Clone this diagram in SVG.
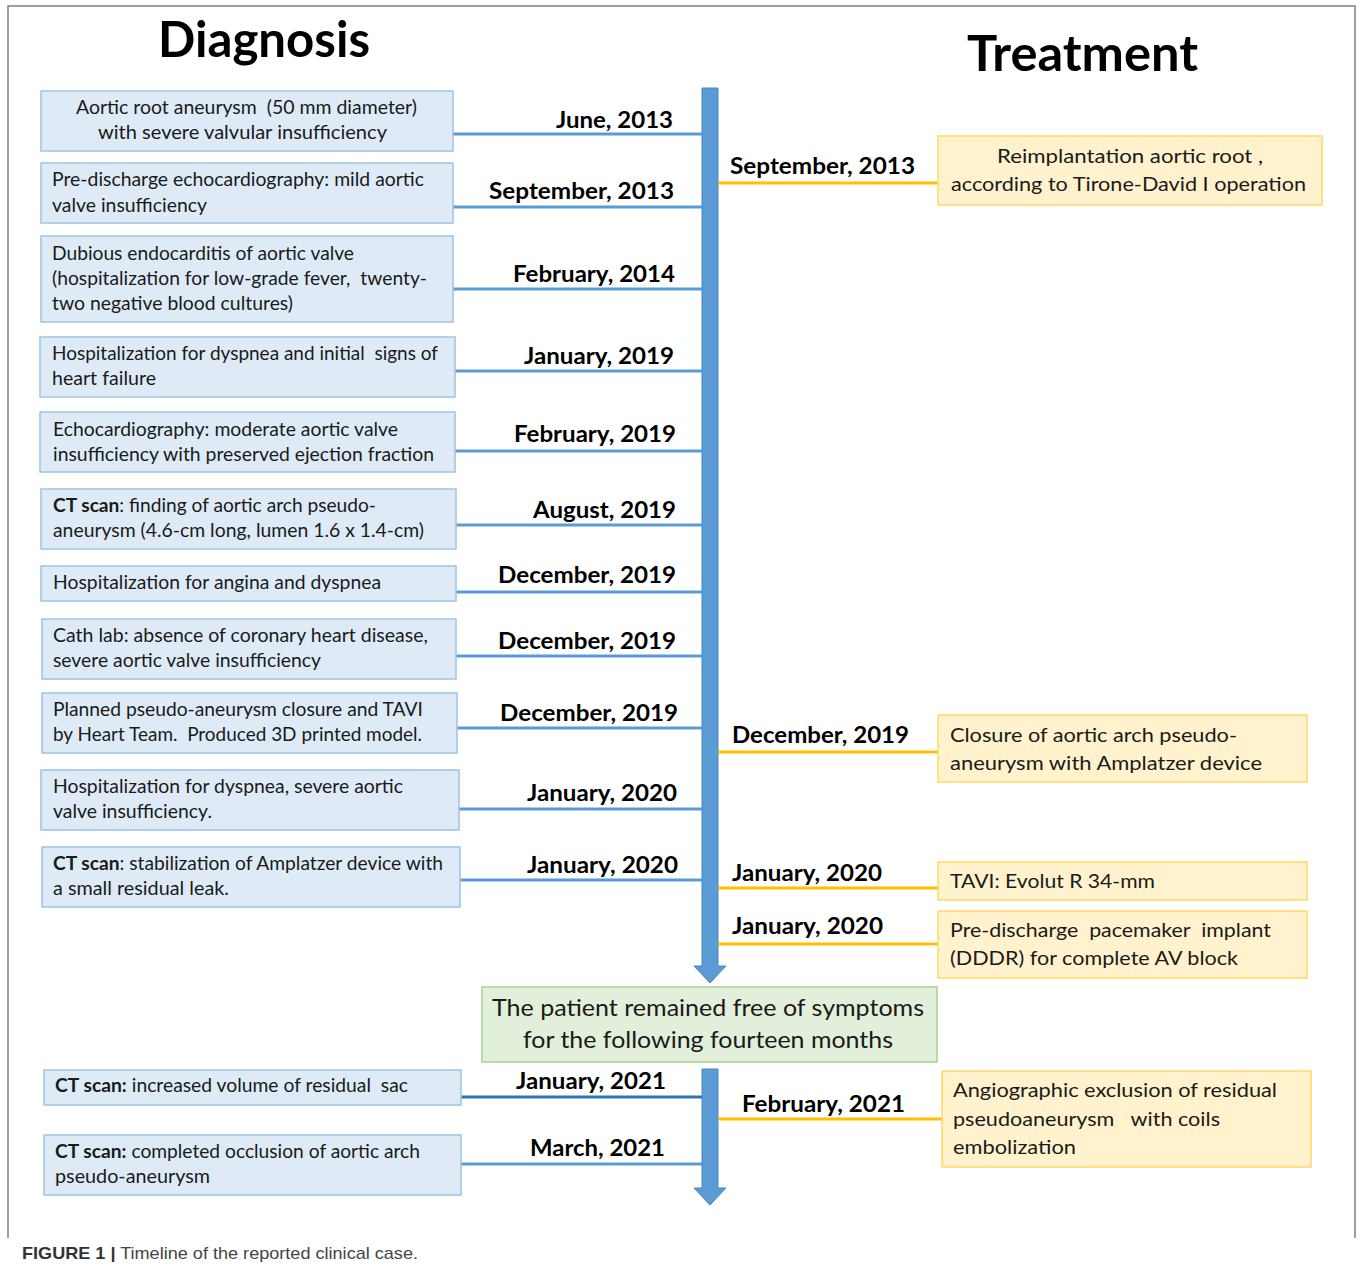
<svg xmlns="http://www.w3.org/2000/svg" width="1360" height="1269" viewBox="0 0 1360 1269">
<style>
text{white-space:pre}
.frame{fill:none;stroke:#7f7f7f;stroke-width:1.5}
.dx{fill:#deebf7;stroke:#9dc3e6;stroke-width:1.5}
.tx{fill:#fff2cc;stroke:#ffd966;stroke-width:1.5}
.gx{fill:#e2efda;stroke:#a9d18e;stroke-width:1.5}
.t{font-family:Lato,"Liberation Sans",sans-serif;font-size:19px;fill:#1a1a1a}
.tr{font-family:Lato,"Liberation Sans",sans-serif;font-size:20px;fill:#1a1a1a}
.tg{font-family:Lato,"Liberation Sans",sans-serif;font-size:24px;fill:#1a1a1a}
.d{font-family:Lato,"Liberation Sans",sans-serif;font-size:23px;font-weight:bold;fill:#000}
.h{font-family:Lato,"Liberation Sans",sans-serif;font-size:50px;font-weight:bold;fill:#000}
.b{font-weight:bold}
.cl{stroke:#5b9bd5;stroke-width:3;fill:none}
.cl2{stroke:#2e75b6;stroke-width:3;fill:none}
.co{stroke:#ffc000;stroke-width:3;fill:none}
.bar{fill:#5b9bd5;stroke:#4a86c0;stroke-width:1}
.cap{font-family:"Liberation Sans",Arial,sans-serif;font-size:17px;fill:#444}
</style>
<rect width="1360" height="1269" fill="#fff"/>
<path class="frame" d="M8,1238 V6 H1355 V1238"/>
<g id="titles">
<text class="h" x="158" y="57" textLength="212" lengthAdjust="spacingAndGlyphs">Diagnosis</text>
<text class="h" x="967" y="71" textLength="231" lengthAdjust="spacingAndGlyphs">Treatment</text>
</g>
<g id="connectors">
<path class="bar" d="M702,88 H718 V966 H726 L710,983 L694,966 H702 Z"/>
<path class="bar" d="M702,1069 H718 V1188 H726 L710,1205 L694,1188 H702 Z"/>
<line class="cl" x1="453" y1="134" x2="702" y2="134"/>
<line class="cl" x1="453" y1="207" x2="702" y2="207"/>
<line class="cl" x1="453" y1="289" x2="702" y2="289"/>
<line class="cl" x1="455" y1="371" x2="702" y2="371"/>
<line class="cl" x1="455" y1="451" x2="702" y2="451"/>
<line class="cl" x1="456" y1="525" x2="702" y2="525"/>
<line class="cl" x1="456" y1="592" x2="702" y2="592"/>
<line class="cl" x1="456" y1="656" x2="702" y2="656"/>
<line class="cl" x1="457" y1="728" x2="702" y2="728"/>
<line class="cl" x1="459" y1="809" x2="702" y2="809"/>
<line class="cl" x1="460" y1="880" x2="702" y2="880"/>
<line class="cl2" x1="461" y1="1097" x2="702" y2="1097"/>
<line class="cl" x1="461" y1="1164" x2="702" y2="1164"/>
<line class="co" x1="718" y1="183" x2="938" y2="183"/>
<line class="co" x1="718" y1="752" x2="938" y2="752"/>
<line class="co" x1="718" y1="888" x2="938" y2="888"/>
<line class="co" x1="718" y1="944" x2="938" y2="944"/>
<line class="co" x1="718" y1="1119" x2="942" y2="1119"/>
</g>
<g id="dates">
<text class="d" x="556" y="128" textLength="117" lengthAdjust="spacingAndGlyphs">June, 2013</text>
<text class="d" x="489" y="199" textLength="185" lengthAdjust="spacingAndGlyphs">September, 2013</text>
<text class="d" x="513" y="282" textLength="162" lengthAdjust="spacingAndGlyphs">February, 2014</text>
<text class="d" x="524" y="364" textLength="150" lengthAdjust="spacingAndGlyphs">January, 2019</text>
<text class="d" x="514" y="442" textLength="162" lengthAdjust="spacingAndGlyphs">February, 2019</text>
<text class="d" x="533" y="518" textLength="143" lengthAdjust="spacingAndGlyphs">August, 2019</text>
<text class="d" x="498" y="583" textLength="178" lengthAdjust="spacingAndGlyphs">December, 2019</text>
<text class="d" x="498" y="649" textLength="178" lengthAdjust="spacingAndGlyphs">December, 2019</text>
<text class="d" x="500" y="721" textLength="178" lengthAdjust="spacingAndGlyphs">December, 2019</text>
<text class="d" x="527" y="801" textLength="150" lengthAdjust="spacingAndGlyphs">January, 2020</text>
<text class="d" x="527" y="873" textLength="151" lengthAdjust="spacingAndGlyphs">January, 2020</text>
<text class="d" x="516" y="1089" textLength="150" lengthAdjust="spacingAndGlyphs">January, 2021</text>
<text class="d" x="530" y="1156" textLength="135" lengthAdjust="spacingAndGlyphs">March, 2021</text>
<text class="d" x="730" y="174" textLength="185" lengthAdjust="spacingAndGlyphs">September, 2013</text>
<text class="d" x="732" y="743" textLength="177" lengthAdjust="spacingAndGlyphs">December, 2019</text>
<text class="d" x="732" y="881" textLength="150" lengthAdjust="spacingAndGlyphs">January, 2020</text>
<text class="d" x="732" y="934" textLength="151" lengthAdjust="spacingAndGlyphs">January, 2020</text>
<text class="d" x="742" y="1112" textLength="163" lengthAdjust="spacingAndGlyphs">February, 2021</text>
</g>
<g id="d1"><rect class="dx" x="41" y="91" width="412" height="60"/>
<text class="t" x="76" y="114" textLength="341" lengthAdjust="spacingAndGlyphs">Aortic root aneurysm  (50 mm diameter)</text>
<text class="t" x="98" y="139" textLength="289" lengthAdjust="spacingAndGlyphs">with severe valvular insufficiency</text></g>
<g id="d2"><rect class="dx" x="41" y="163" width="412" height="60"/>
<text class="t" x="52" y="186" textLength="372" lengthAdjust="spacingAndGlyphs">Pre-discharge echocardiography: mild aortic</text>
<text class="t" x="52" y="212" textLength="155" lengthAdjust="spacingAndGlyphs">valve insufficiency</text></g>
<g id="d3"><rect class="dx" x="41" y="236" width="412" height="86"/>
<text class="t" x="52" y="260" textLength="302" lengthAdjust="spacingAndGlyphs">Dubious endocarditis of aortic valve</text>
<text class="t" x="52" y="285" textLength="375" lengthAdjust="spacingAndGlyphs">(hospitalization for low-grade fever,  twenty-</text>
<text class="t" x="52" y="310" textLength="241" lengthAdjust="spacingAndGlyphs">two negative blood cultures)</text></g>
<g id="d4"><rect class="dx" x="40" y="337" width="415" height="60"/>
<text class="t" x="52" y="360" textLength="386" lengthAdjust="spacingAndGlyphs">Hospitalization for dyspnea and initial  signs of</text>
<text class="t" x="52" y="385" textLength="104" lengthAdjust="spacingAndGlyphs">heart failure</text></g>
<g id="d5"><rect class="dx" x="40" y="412" width="415" height="60"/>
<text class="t" x="53" y="436" textLength="345" lengthAdjust="spacingAndGlyphs">Echocardiography: moderate aortic valve</text>
<text class="t" x="53" y="461" textLength="381" lengthAdjust="spacingAndGlyphs">insufficiency with preserved ejection fraction</text></g>
<g id="d6"><rect class="dx" x="41" y="489" width="415" height="60"/>
<text class="t" x="53" y="512" textLength="323" lengthAdjust="spacingAndGlyphs"><tspan class="b">CT scan</tspan>: finding of aortic arch pseudo-</text>
<text class="t" x="53" y="537" textLength="371" lengthAdjust="spacingAndGlyphs">aneurysm (4.6-cm long, lumen 1.6 x 1.4-cm)</text></g>
<g id="d7"><rect class="dx" x="41" y="566" width="415" height="35"/>
<text class="t" x="53" y="589" textLength="328" lengthAdjust="spacingAndGlyphs">Hospitalization for angina and dyspnea</text></g>
<g id="d8"><rect class="dx" x="42" y="619" width="414" height="60"/>
<text class="t" x="53" y="642" textLength="375" lengthAdjust="spacingAndGlyphs">Cath lab: absence of coronary heart disease,</text>
<text class="t" x="53" y="667" textLength="268" lengthAdjust="spacingAndGlyphs">severe aortic valve insufficiency</text></g>
<g id="d9"><rect class="dx" x="42" y="693" width="415" height="60"/>
<text class="t" x="53" y="716" textLength="370" lengthAdjust="spacingAndGlyphs">Planned pseudo-aneurysm closure and TAVI</text>
<text class="t" x="53" y="741" textLength="369" lengthAdjust="spacingAndGlyphs">by Heart Team.  Produced 3D printed model.</text></g>
<g id="d10"><rect class="dx" x="41" y="770" width="418" height="60"/>
<text class="t" x="53" y="793" textLength="350" lengthAdjust="spacingAndGlyphs">Hospitalization for dyspnea, severe aortic</text>
<text class="t" x="53" y="818" textLength="159" lengthAdjust="spacingAndGlyphs">valve insufficiency.</text></g>
<g id="d11"><rect class="dx" x="42" y="847" width="418" height="60"/>
<text class="t" x="53" y="870" textLength="390" lengthAdjust="spacingAndGlyphs"><tspan class="b">CT scan</tspan>: stabilization of Amplatzer device with</text>
<text class="t" x="53" y="895" textLength="176" lengthAdjust="spacingAndGlyphs">a small residual leak.</text></g>
<g id="d12"><rect class="dx" x="44" y="1070" width="417" height="35"/>
<text class="t" x="55" y="1092" textLength="353" lengthAdjust="spacingAndGlyphs"><tspan class="b">CT scan:</tspan> increased volume of residual  sac</text></g>
<g id="d13"><rect class="dx" x="44" y="1135" width="417" height="60"/>
<text class="t" x="55" y="1158" textLength="365" lengthAdjust="spacingAndGlyphs"><tspan class="b">CT scan:</tspan> completed occlusion of aortic arch</text>
<text class="t" x="55" y="1183" textLength="155" lengthAdjust="spacingAndGlyphs">pseudo-aneurysm</text></g>
<g id="tA"><rect class="tx" x="938" y="136" width="384" height="69"/>
<text class="tr" x="997" y="163" textLength="266" lengthAdjust="spacingAndGlyphs">Reimplantation aortic root ,</text>
<text class="tr" x="951" y="191" textLength="355" lengthAdjust="spacingAndGlyphs">according to Tirone-David I operation</text></g>
<g id="tB"><rect class="tx" x="938" y="715" width="369" height="67"/>
<text class="tr" x="950" y="742" textLength="287" lengthAdjust="spacingAndGlyphs">Closure of aortic arch pseudo-</text>
<text class="tr" x="950" y="770" textLength="312" lengthAdjust="spacingAndGlyphs">aneurysm with Amplatzer device</text></g>
<g id="tC"><rect class="tx" x="938" y="862" width="369" height="38"/>
<text class="tr" x="950" y="888" textLength="205" lengthAdjust="spacingAndGlyphs">TAVI: Evolut R 34-mm</text></g>
<g id="tD"><rect class="tx" x="938" y="911" width="369" height="67"/>
<text class="tr" x="950" y="937" textLength="321" lengthAdjust="spacingAndGlyphs">Pre-discharge  pacemaker  implant</text>
<text class="tr" x="950" y="965" textLength="288" lengthAdjust="spacingAndGlyphs">(DDDR) for complete AV block</text></g>
<g id="tE"><rect class="tx" x="942" y="1071" width="369" height="96"/>
<text class="tr" x="953" y="1097" textLength="324" lengthAdjust="spacingAndGlyphs">Angiographic exclusion of residual</text>
<text class="tr" x="953" y="1126" textLength="267" lengthAdjust="spacingAndGlyphs">pseudoaneurysm   with coils</text>
<text class="tr" x="953" y="1154" textLength="123" lengthAdjust="spacingAndGlyphs">embolization</text></g>
<g id="gap"><rect class="gx" x="482" y="987" width="455" height="75"/>
<text class="tg" x="492" y="1016" textLength="432" lengthAdjust="spacingAndGlyphs">The patient remained free of symptoms</text>
<text class="tg" x="523" y="1048" textLength="370" lengthAdjust="spacingAndGlyphs">for the following fourteen months</text></g>
<g id="caption">
<text class="cap" x="22" y="1259" textLength="396" lengthAdjust="spacingAndGlyphs"><tspan font-weight="bold" fill="#333">FIGURE 1 |</tspan> Timeline of the reported clinical case.</text>
</g>
</svg>
